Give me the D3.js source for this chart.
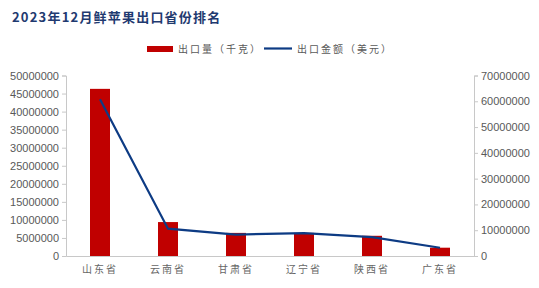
<!DOCTYPE html>
<html>
<head>
<meta charset="utf-8">
<script src="https://cdn.jsdelivr.net/npm/d3@7"></script>
<style>
  body { margin: 0; background: #fff; }
  svg { display: block; font-family: "Noto Sans CJK SC", sans-serif; }
</style>
</head>
<body>
<div id="chart"></div>
<script>
const provinces = ['山东省', '云南省', '甘肃省', '辽宁省', '陕西省', '广东省'];
const volume = [46300000, 9400000, 6400000, 6400000, 5600000, 2300000];
const amount = [60800000, 10600000, 8300000, 8900000, 7300000, 3200000];
const leftTicks = [0, 5000000, 10000000, 15000000, 20000000, 25000000, 30000000, 35000000, 40000000, 45000000, 50000000];
const rightTicks = [0, 10000000, 20000000, 30000000, 40000000, 50000000, 60000000, 70000000];

const width = 539, height = 288;
const margin = { top: 75.5, right: 65, bottom: 32, left: 66 };

const svg = d3.select('#chart').append('svg')
  .attr('width', width)
  .attr('height', height);

svg.append('text')
  .attr('x', 12)
  .attr('y', 22)
  .attr('fill', '#1f3a70')
  .attr('font-size', 13)
  .attr('font-weight', 'bold')
  .attr('letter-spacing', 1.2)
  .text('2023年12月鲜苹果出口省份排名');

const x = d3.scaleBand()
  .domain(provinces)
  .range([margin.left, width - margin.right])
  .paddingInner(0.706)
  .paddingOuter(0.353);

const yL = d3.scaleLinear().domain([0, 50000000]).range([height - margin.bottom, margin.top]);
const yR = d3.scaleLinear().domain([0, 70000000]).range([height - margin.bottom, margin.top]);

const axisColor = '#c8c8c8';
const labelColor = '#595959';

// left axis
const gl = svg.append('g')
  .attr('transform', `translate(${margin.left},0)`)
  .call(d3.axisLeft(yL).tickValues(leftTicks).tickFormat(d3.format('d')).tickSizeOuter(0).tickSize(4).tickPadding(3));
// right axis
const gr = svg.append('g')
  .attr('transform', `translate(${width - margin.right},0)`)
  .call(d3.axisRight(yR).tickValues(rightTicks).tickFormat(d3.format('d')).tickSizeOuter(0).tickSize(4).tickPadding(3));
// bottom axis
const gb = svg.append('g')
  .attr('transform', `translate(0,${height - margin.bottom})`)
  .call(d3.axisBottom(x).tickSize(0).tickPadding(10));

[gl, gr, gb].forEach(g => {
  g.selectAll('.domain').attr('stroke', axisColor);
  g.selectAll('.tick line').attr('stroke', axisColor);
  g.selectAll('text')
    .attr('fill', labelColor)
    .attr('font-family', 'Liberation Sans, Arial, sans-serif')
    .attr('font-size', 11);
});
gb.selectAll('text')
  .attr('font-family', '"Noto Sans CJK SC", sans-serif')
  .attr('font-size', 10)
  .attr('letter-spacing', 2)
  .attr('fill', '#666');

// bars
svg.append('g')
  .selectAll('rect')
  .data(provinces)
  .join('rect')
  .attr('x', d => x(d))
  .attr('y', (d, i) => yL(volume[i]))
  .attr('width', x.bandwidth())
  .attr('height', (d, i) => yL(0) - yL(volume[i]))
  .attr('fill', '#c00000');

// line
const line = d3.line()
  .x(d => x(d.p) + x.bandwidth() / 2)
  .y(d => yR(d.v));

svg.append('path')
  .datum(provinces.map((p, i) => ({ p, v: amount[i] })))
  .attr('d', line)
  .attr('fill', 'none')
  .attr('stroke', '#0d3b84')
  .attr('stroke-width', 2.2);

// legend
const legend = svg.append('g').attr('font-size', 10).attr('fill', '#595959');
legend.append('rect')
  .attr('x', 147).attr('y', 46)
  .attr('width', 26).attr('height', 6)
  .attr('fill', '#c00000');
legend.append('text')
  .attr('x', 178).attr('y', 52.5)
  .attr('letter-spacing', 2)
  .text('出口量（千克）');
legend.append('line')
  .attr('x1', 264).attr('x2', 292)
  .attr('y1', 48.5).attr('y2', 48.5)
  .attr('stroke', '#0d3b84')
  .attr('stroke-width', 2.2);
legend.append('text')
  .attr('x', 297).attr('y', 52.5)
  .attr('letter-spacing', 2)
  .text('出口金额（美元）');
</script>
</body>
</html>
